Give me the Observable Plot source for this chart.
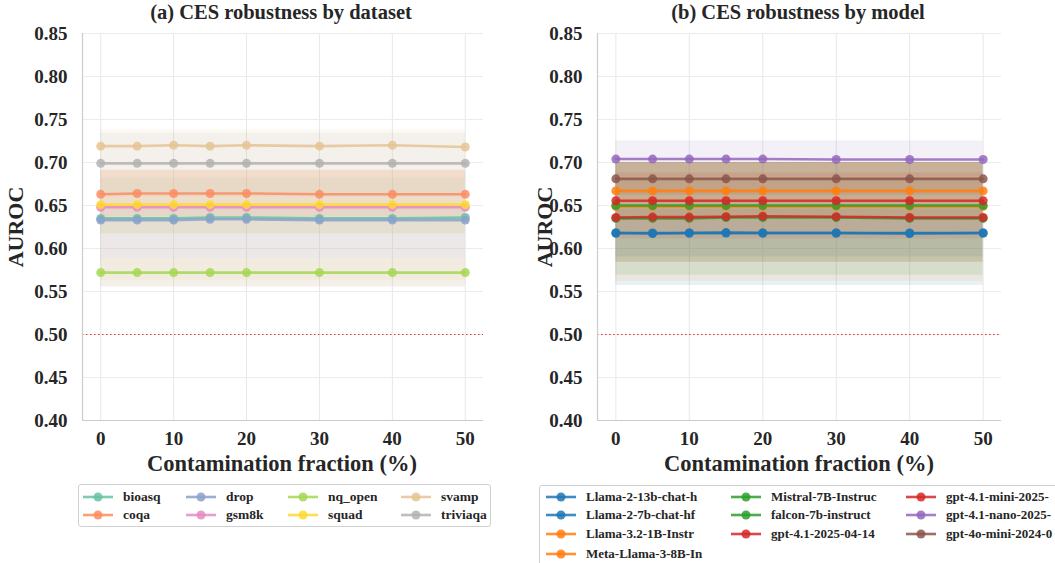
<!DOCTYPE html>
<html>
<head>
<meta charset="utf-8">
<script src="https://cdn.jsdelivr.net/npm/d3@7"></script>
<script src="https://cdn.jsdelivr.net/npm/@observablehq/plot@0.6"></script>
<style>
  html, body { margin: 0; padding: 0; background: #fff; }
  #page { position: relative; width: 1055px; height: 563px; overflow: hidden;
          font-family: "Liberation Serif", "DejaVu Serif", serif; font-weight: bold; color: #262626; }
  .abs { position: absolute; }
  .title { font-size: 20.5px; white-space: nowrap; transform: translateX(-50%); }
  .xlab { font-size: 22.5px; white-space: nowrap; transform: translateX(-50%); }
  .ylab { font-size: 22px; white-space: nowrap; transform: translate(-50%, -50%) rotate(-90deg); }
  .legend { border: 1.3px solid #d0d0d0; border-radius: 3px; background: #fff; box-sizing: border-box; }
  .item { position: absolute; display: flex; align-items: center; white-space: nowrap; transform: translateY(-50%); }
  .item svg { margin-right: 10px; }
</style>
</head>
<body>
<div id="page"></div>
<script>
// Contamination fractions (%) evaluated
const fractions = [0, 5, 10, 15, 20, 30, 40, 50];

// Panel (a): mean AUROC per dataset
const datasets = ["bioasq", "coqa", "drop", "gsm8k", "nq_open", "squad", "svamp", "triviaqa"];
const datasetColors = ["#66c2a5", "#fc8d62", "#8da0cb", "#e78ac3", "#a6d854", "#ffd92f", "#e5c494", "#b3b3b3"];
const bioasq   = [0.635, 0.635, 0.635, 0.636, 0.636, 0.635, 0.635, 0.636];
const coqa     = [0.663, 0.664, 0.664, 0.664, 0.664, 0.663, 0.663, 0.663];
const drop     = [0.633, 0.633, 0.633, 0.634, 0.634, 0.633, 0.633, 0.633];
const gsm8k    = [0.648, 0.648, 0.648, 0.648, 0.648, 0.648, 0.648, 0.648];
const nq_open  = [0.572, 0.572, 0.572, 0.572, 0.572, 0.572, 0.572, 0.572];
const squad    = [0.651, 0.651, 0.651, 0.651, 0.651, 0.651, 0.651, 0.651];
const svamp    = [0.719, 0.719, 0.720, 0.719, 0.720, 0.719, 0.720, 0.718];
const triviaqa = [0.699, 0.699, 0.699, 0.699, 0.699, 0.699, 0.699, 0.699];
// spread band (low, high) per dataset
const datasetBandLow  = [0.588, 0.637, 0.617, 0.555, 0.556, 0.617, 0.563, 0.660];
const datasetBandHigh = [0.682, 0.691, 0.649, 0.691, 0.588, 0.691, 0.738, 0.734];

// Panel (b): mean AUROC per model (legend names truncated to 18 characters)
const models = ["Llama-2-13b-chat-h", "Llama-2-7b-chat-hf", "Llama-3.2-1B-Instr", "Meta-Llama-3-8B-In",
                "Mistral-7B-Instruc", "falcon-7b-instruct", "gpt-4.1-2025-04-14", "gpt-4.1-mini-2025-",
                "gpt-4.1-nano-2025-", "gpt-4o-mini-2024-0"];
const modelColors = ["#1f77b4", "#1f77b4", "#ff7f0e", "#ff7f0e", "#2ca02c", "#2ca02c",
                     "#d62728", "#d62728", "#9467bd", "#8c564b"];
const llama2_13b  = [0.618, 0.6175, 0.618, 0.6185, 0.618, 0.618, 0.6175, 0.618];
const llama2_7b   = [0.618, 0.618, 0.618, 0.618, 0.618, 0.618, 0.618, 0.618];
const llama32_1b  = [0.667, 0.667, 0.667, 0.667, 0.667, 0.667, 0.667, 0.667];
const llama3_8b   = [0.649, 0.649, 0.649, 0.649, 0.649, 0.649, 0.649, 0.649];
const mistral_7b  = [0.650, 0.650, 0.650, 0.650, 0.650, 0.650, 0.650, 0.650];
const falcon_7b   = [0.635, 0.635, 0.635, 0.636, 0.636, 0.636, 0.635, 0.635];
const gpt41       = [0.6555, 0.6555, 0.6555, 0.6555, 0.6555, 0.6555, 0.6555, 0.6555];
const gpt41_mini  = [0.636, 0.6365, 0.6365, 0.637, 0.6375, 0.637, 0.636, 0.636];
const gpt41_nano  = [0.704, 0.704, 0.704, 0.704, 0.704, 0.7035, 0.7035, 0.7035];
const gpt4o_mini  = [0.681, 0.681, 0.681, 0.681, 0.681, 0.681, 0.681, 0.681];
const modelBandLow  = [0.557, 0.590, 0.634, 0.562, 0.584, 0.569, 0.611, 0.584, 0.683, 0.662];
const modelBandHigh = [0.679, 0.646, 0.700, 0.700, 0.700, 0.700, 0.700, 0.688, 0.725, 0.700];

const yTicks = [0.40, 0.45, 0.50, 0.55, 0.60, 0.65, 0.70, 0.75, 0.80, 0.85];
const xTicks = [0, 10, 20, 30, 40, 50];
const chance = 0.5;

function toRows(names, series, lows, highs) {
  const rows = [], bands = [];
  names.forEach((name, i) => {
    fractions.forEach((f, j) => {
      rows.push({name, x: f, y: series[i][j]});
      bands.push({name, x: f, lo: lows[i], hi: highs[i]});
    });
  });
  return {rows, bands};
}

function panel({names, colors, series, lows, highs, width, marginLeft, marginRight}) {
  const {rows, bands} = toRows(names, series, lows, highs);
  return Plot.plot({
    width, height: 480,
    marginLeft, marginRight, marginTop: 33, marginBottom: 60,
    style: {fontFamily: "Liberation Serif, serif", fontWeight: "bold", fontSize: "19px", color: "#262626", background: "transparent"},
    x: {domain: [-2.5, 52.5]},
    y: {domain: [0.40, 0.85]},
    color: {domain: names, range: colors},
    marks: [
      Plot.gridX(xTicks, {stroke: "#e8e8e8", strokeOpacity: 1, strokeWidth: 1}),
      Plot.gridY(yTicks, {stroke: "#ececec", strokeOpacity: 1, strokeWidth: 1}),
      Plot.areaY(bands, {x: "x", y1: "lo", y2: "hi", z: "name", fill: "name", fillOpacity: 0.1}),
      Plot.ruleY([chance], {stroke: "red", strokeWidth: 1.2, strokeDasharray: "1.5,2.5", strokeOpacity: 0.8}),
      Plot.line(rows, {x: "x", y: "y", z: "name", stroke: "name", strokeWidth: 2.6, strokeOpacity: 0.85}),
      Plot.dot(rows, {x: "x", y: "y", fill: "name", r: 4.5, fillOpacity: 0.85}),
      Plot.ruleX([-2.5], {stroke: "#cccccc", strokeWidth: 1.2}),
      Plot.ruleY([0.40], {stroke: "#cccccc", strokeWidth: 1.2}),
      Plot.axisX(xTicks, {tickSize: 0, tickPadding: 11, label: null, fontSize: 19}),
      Plot.axisY(yTicks, {tickSize: 0, tickPadding: 15, label: null, tickFormat: d3.format(".2f"), fontSize: 19})
    ]
  });
}

function legend(names, colors, cols, rowPos, box, fontSize) {
  const div = document.createElement("div");
  div.className = "abs legend";
  Object.assign(div.style, {left: box.left + "px", top: box.top + "px", width: box.width + "px", height: box.height + "px"});
  let k = 0;
  cols.forEach(([colX, count]) => {
    for (let r = 0; r < count; r++, k++) {
      const item = document.createElement("div");
      item.className = "item";
      item.style.left = colX + "px";
      item.style.top = rowPos[r] + "px";
      item.style.fontSize = fontSize + "px";
      item.innerHTML = `<svg width="30" height="12"><line x1="0" x2="30" y1="6" y2="6" stroke="${colors[k]}" stroke-width="2.6" stroke-opacity="0.85"/><circle cx="15" cy="6" r="4.5" fill="${colors[k]}" fill-opacity="0.85"/></svg><span>${names[k]}</span>`;
      div.appendChild(item);
    }
  });
  return div;
}

function place(el, left, top, cls) {
  const d = document.createElement("div");
  d.className = "abs" + (cls ? " " + cls : "");
  d.style.left = left + "px";
  d.style.top = top + "px";
  if (typeof el === "string") d.textContent = el; else d.appendChild(el);
  return d;
}

const page = document.getElementById("page");

const left = panel({names: datasets, colors: datasetColors,
  series: [bioasq, coqa, drop, gsm8k, nq_open, squad, svamp, triviaqa],
  lows: datasetBandLow, highs: datasetBandHigh, width: 527, marginLeft: 82, marginRight: 44});
const right = panel({names: models, colors: modelColors,
  series: [llama2_13b, llama2_7b, llama32_1b, llama3_8b, mistral_7b, falcon_7b, gpt41, gpt41_mini, gpt41_nano, gpt4o_mini],
  lows: modelBandLow, highs: modelBandHigh, width: 528, marginLeft: 70, marginRight: 54});

page.appendChild(place(left, 0, 0));
page.appendChild(place(right, 527, 0));

page.appendChild(place("(a) CES robustness by dataset", 281, 1, "title"));
page.appendChild(place("(b) CES robustness by model", 798, 1, "title"));
page.appendChild(place("Contamination fraction (%)", 282, 451, "xlab"));
page.appendChild(place("Contamination fraction (%)", 799, 451, "xlab"));
page.appendChild(place("AUROC", 16, 227, "ylab"));
page.appendChild(place("AUROC", 545, 227, "ylab"));

page.appendChild(legend(datasets, datasetColors, [[4, 2], [107, 2], [209, 2], [322, 2]], [12, 30],
  {left: 78, top: 484, width: 413, height: 43}, 13.5));
page.appendChild(legend(models, modelColors, [[6, 4], [191, 3], [366, 3]], [11, 29, 48, 68],
  {left: 539, top: 485, width: 530, height: 90}, 13));
</script>
</body>
</html>
